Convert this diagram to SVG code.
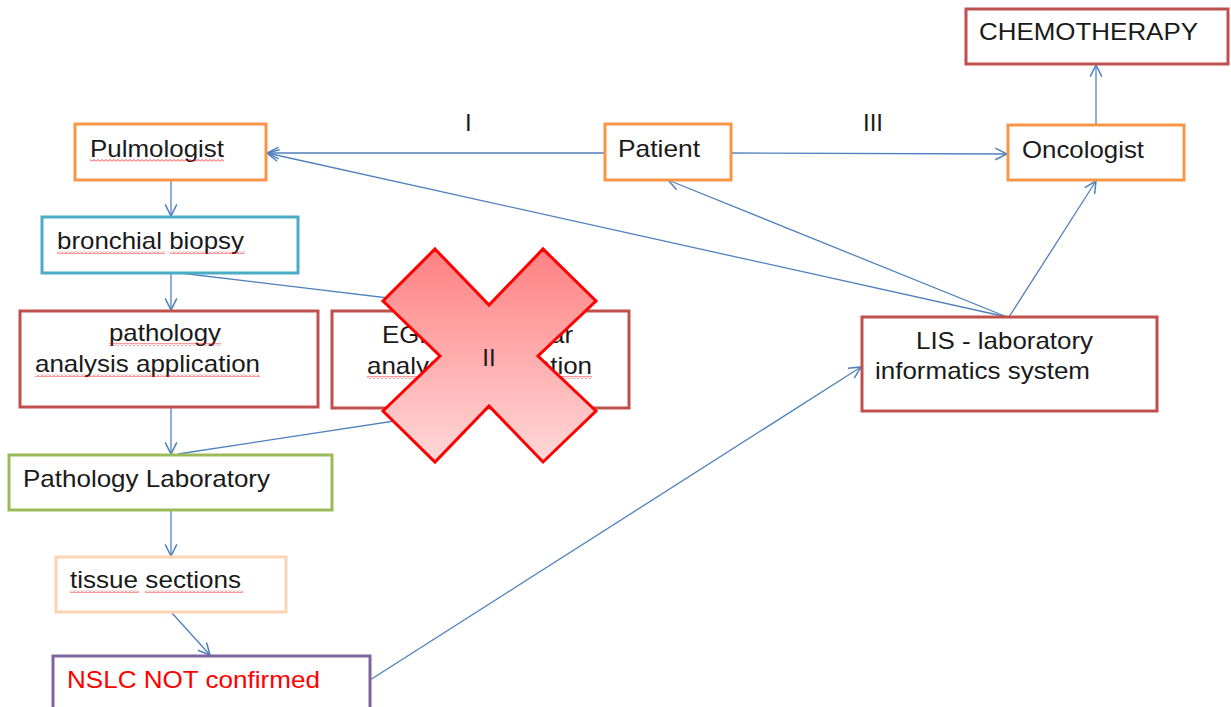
<svg xmlns="http://www.w3.org/2000/svg" width="1231" height="707" viewBox="0 0 1231 707">
<style>
.box{fill:#fff;stroke-width:3}
.t{font-family:"Liberation Sans",Arial,sans-serif;font-size:24px;fill:#1a1a1a}
.c{stroke:#4F81BD;stroke-width:1.3;fill:none;marker-end:url(#arr)}
.sq{fill:url(#wavy)}
</style>
<defs>
<marker id="arr" markerUnits="userSpaceOnUse" markerWidth="14" markerHeight="14" viewBox="0 0 12 12" refX="11" refY="6" orient="auto">
<path d="M1,1 L11,6 L1,11" fill="none" stroke="#4F81BD" stroke-width="1.3"/>
</marker>
<pattern id="wavy" patternUnits="userSpaceOnUse" width="4" height="3">
<path d="M0,2.5 L2,0.5 L4,2.5" fill="none" stroke="#FF0000" stroke-width="0.8"/>
</pattern>
<linearGradient id="xg" x1="0" y1="0" x2="0" y2="1">
<stop offset="0" stop-color="#FF8082"/>
<stop offset="1" stop-color="#FFD8D8"/>
</linearGradient>
</defs>
<rect width="1231" height="707" fill="#fff"/>

<g id="connectors">
<line class="c" x1="604" y1="153" x2="267" y2="153"/>
<line class="c" x1="1007" y1="317" x2="267" y2="153"/>
<line class="c" x1="1007" y1="317" x2="668" y2="180"/>
<line class="c" x1="1009" y1="317" x2="1096" y2="181"/>
<line class="c" x1="731" y1="153" x2="1007" y2="154"/>
<line class="c" x1="1096" y1="125" x2="1096" y2="65"/>
<line class="c" x1="171" y1="180" x2="171" y2="216"/>
<line class="c" x1="171" y1="273" x2="171" y2="310"/>
<line x1="180" y1="273" x2="480" y2="309" stroke="#4F81BD" stroke-width="1.3"/>
<line class="c" x1="171" y1="407" x2="171" y2="454"/>
<line x1="480" y1="408" x2="178" y2="454" stroke="#4F81BD" stroke-width="1.3"/>
<line class="c" x1="171" y1="510" x2="171" y2="556"/>
<line class="c" x1="172" y1="613" x2="210" y2="655"/>
<line class="c" x1="370" y1="680" x2="861" y2="367"/>
</g>

<g id="label-I"><text class="t" x="465" y="131">I</text></g>
<g id="label-III"><text class="t" x="863" y="131">III</text></g>

<g id="pulmologist">
<rect class="box" x="75" y="124" width="191" height="56" stroke="#F79646"/>
<text class="t" x="90" y="157" textLength="134" lengthAdjust="spacingAndGlyphs">Pulmologist</text>
<rect class="sq" x="90" y="159" width="134" height="3"/>
</g>

<g id="bronchial-biopsy">
<rect class="box" x="42" y="217" width="256" height="56" stroke="#4BACC6"/>
<text class="t" x="57" y="249" textLength="187" lengthAdjust="spacingAndGlyphs">bronchial biopsy</text>
<rect class="sq" x="57" y="251" width="108" height="3"/>
<rect class="sq" x="170" y="251" width="75" height="3"/>
</g>

<g id="pathology-app">
<rect class="box" x="20" y="311" width="298" height="96" stroke="#C0504D"/>
<text class="t" x="109" y="341" textLength="112" lengthAdjust="spacingAndGlyphs">pathology</text>
<rect class="sq" x="109" y="343" width="112" height="3"/>
<text class="t" x="35" y="372" textLength="225" lengthAdjust="spacingAndGlyphs">analysis application</text>
<rect class="sq" x="35" y="374" width="225" height="3"/>
</g>

<g id="egfr-app">
<rect class="box" x="332" y="311" width="297" height="97" stroke="#C0504D"/>
<text class="t" x="382" y="343" textLength="191" lengthAdjust="spacingAndGlyphs">EGFR molecular</text>
<text class="t" x="367" y="374" textLength="225" lengthAdjust="spacingAndGlyphs">analysis application</text>
<rect class="sq" x="367" y="376" width="225" height="3"/>
</g>

<g id="cross">
<polygon points="435,249 489,305 543,249 596,301 538,356 596,411 543,462 489,406 435,462 383,411 440,356 383,301" fill="url(#xg)" stroke="#FF0000" stroke-width="3" stroke-linejoin="miter"/>
<text class="t" x="489" y="366" text-anchor="middle">II</text>
</g>

<g id="pathology-lab">
<rect class="box" x="9" y="455" width="323" height="55" stroke="#9BBB59"/>
<text class="t" x="23" y="487" textLength="247" lengthAdjust="spacingAndGlyphs">Pathology Laboratory</text>
</g>

<g id="tissue-sections">
<rect class="box" x="56" y="557" width="230" height="55" stroke="#FBD4B4" stroke-width="2"/>
<text class="t" x="70" y="588" textLength="171" lengthAdjust="spacingAndGlyphs">tissue sections</text>
<rect class="sq" x="70" y="590" width="69" height="3"/>
<rect class="sq" x="145" y="590" width="98" height="3"/>
</g>

<g id="nslc">
<rect class="box" x="53" y="656" width="317" height="70" stroke="#8064A2"/>
<text class="t" x="67" y="688" textLength="253" lengthAdjust="spacingAndGlyphs" style="fill:#FF0000">NSLC NOT confirmed</text>
</g>

<g id="patient">
<rect class="box" x="605" y="124" width="126" height="56" stroke="#F79646"/>
<text class="t" x="618" y="157" textLength="82" lengthAdjust="spacingAndGlyphs">Patient</text>
</g>

<g id="oncologist">
<rect class="box" x="1008" y="125" width="176" height="55" stroke="#F79646"/>
<text class="t" x="1022" y="158" textLength="122" lengthAdjust="spacingAndGlyphs">Oncologist</text>
</g>

<g id="chemotherapy">
<rect class="box" x="966" y="9" width="262" height="55" stroke="#C0504D"/>
<text class="t" x="979" y="40" textLength="219" lengthAdjust="spacingAndGlyphs">CHEMOTHERAPY</text>
</g>

<g id="lis">
<rect class="box" x="862" y="317" width="295" height="94" stroke="#C0504D"/>
<text class="t" x="916" y="349" textLength="177" lengthAdjust="spacingAndGlyphs">LIS - laboratory</text>
<text class="t" x="875" y="379" textLength="215" lengthAdjust="spacingAndGlyphs">informatics system</text>
</g>
</svg>
